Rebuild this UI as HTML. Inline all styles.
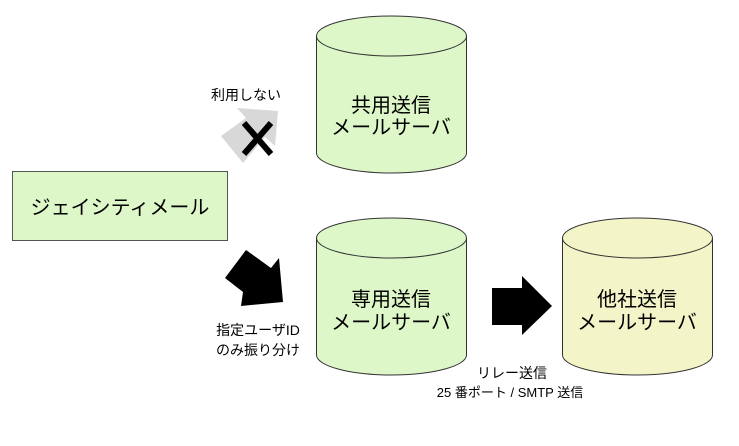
<!DOCTYPE html>
<html><head><meta charset="utf-8"><style>
body{margin:0;background:#fff;}
svg text{font-family:"Liberation Sans","Noto Sans CJK JP",sans-serif;fill:#000;}
</style></head><body>
<svg width="739" height="441" viewBox="0 0 739 441" xmlns="http://www.w3.org/2000/svg">
<rect x="12.5" y="171.5" width="215" height="69" fill="#ddf7c8" stroke="#555" stroke-width="1"/>
<text x="120" y="214" font-size="20" text-anchor="middle">ジェイシティメール</text>
<path d="M316.5,36 L316.5,153 A75,20 0 0 0 466.5,153 L466.5,36 A75,20 0 0 0 316.5,36 Z" fill="#ddf7c8" stroke="#333"/>
<path d="M316.5,36 A75,20 0 0 0 466.5,36" fill="none" stroke="#333"/>
<text x="391" y="112" font-size="20" text-anchor="middle">共用送信</text>
<text x="391" y="134" font-size="20" text-anchor="middle">メールサーバ</text>
<path d="M316.5,238 L316.5,355 A75,20 0 0 0 466.5,355 L466.5,238 A75,20 0 0 0 316.5,238 Z" fill="#ddf7c8" stroke="#333"/>
<path d="M316.5,238 A75,20 0 0 0 466.5,238" fill="none" stroke="#333"/>
<text x="391" y="306" font-size="20" text-anchor="middle">専用送信</text>
<text x="391" y="329" font-size="20" text-anchor="middle">メールサーバ</text>
<path d="M562.5,238 L562.5,355 A75,20 0 0 0 712.5,355 L712.5,238 A75,20 0 0 0 562.5,238 Z" fill="#f3f4c8" stroke="#333"/>
<path d="M562.5,238 A75,20 0 0 0 712.5,238" fill="none" stroke="#333"/>
<text x="637" y="306" font-size="20" text-anchor="middle">他社送信</text>
<text x="637" y="329" font-size="20" text-anchor="middle">メールサーバ</text>
<polygon points="237,108 278,111 275,146 265,137 243,163 221,136 246,118" fill="#d8d8d8"/>
<path d="M244,123 L271,154 M271,123 L244,154" stroke="#000" stroke-width="6"/>
<text x="246" y="100" font-size="14" text-anchor="middle">利用しない</text>
<polygon points="246,250 271,268 279,258 283,302 241,306 243,292 225,278" fill="#000"/>
<text x="258" y="335" font-size="14" text-anchor="middle">指定ユーザID</text>
<text x="258" y="355" font-size="14" text-anchor="middle">のみ振り分け</text>
<polygon points="492,288 522,288 522,276 552,306 522,335 522,325 492,325" fill="#000"/>
<text x="512" y="378" font-size="14" text-anchor="middle">リレー送信</text>
<text x="510" y="397" font-size="13" text-anchor="middle">25 番ポート / SMTP 送信</text>
</svg>
</body></html>
